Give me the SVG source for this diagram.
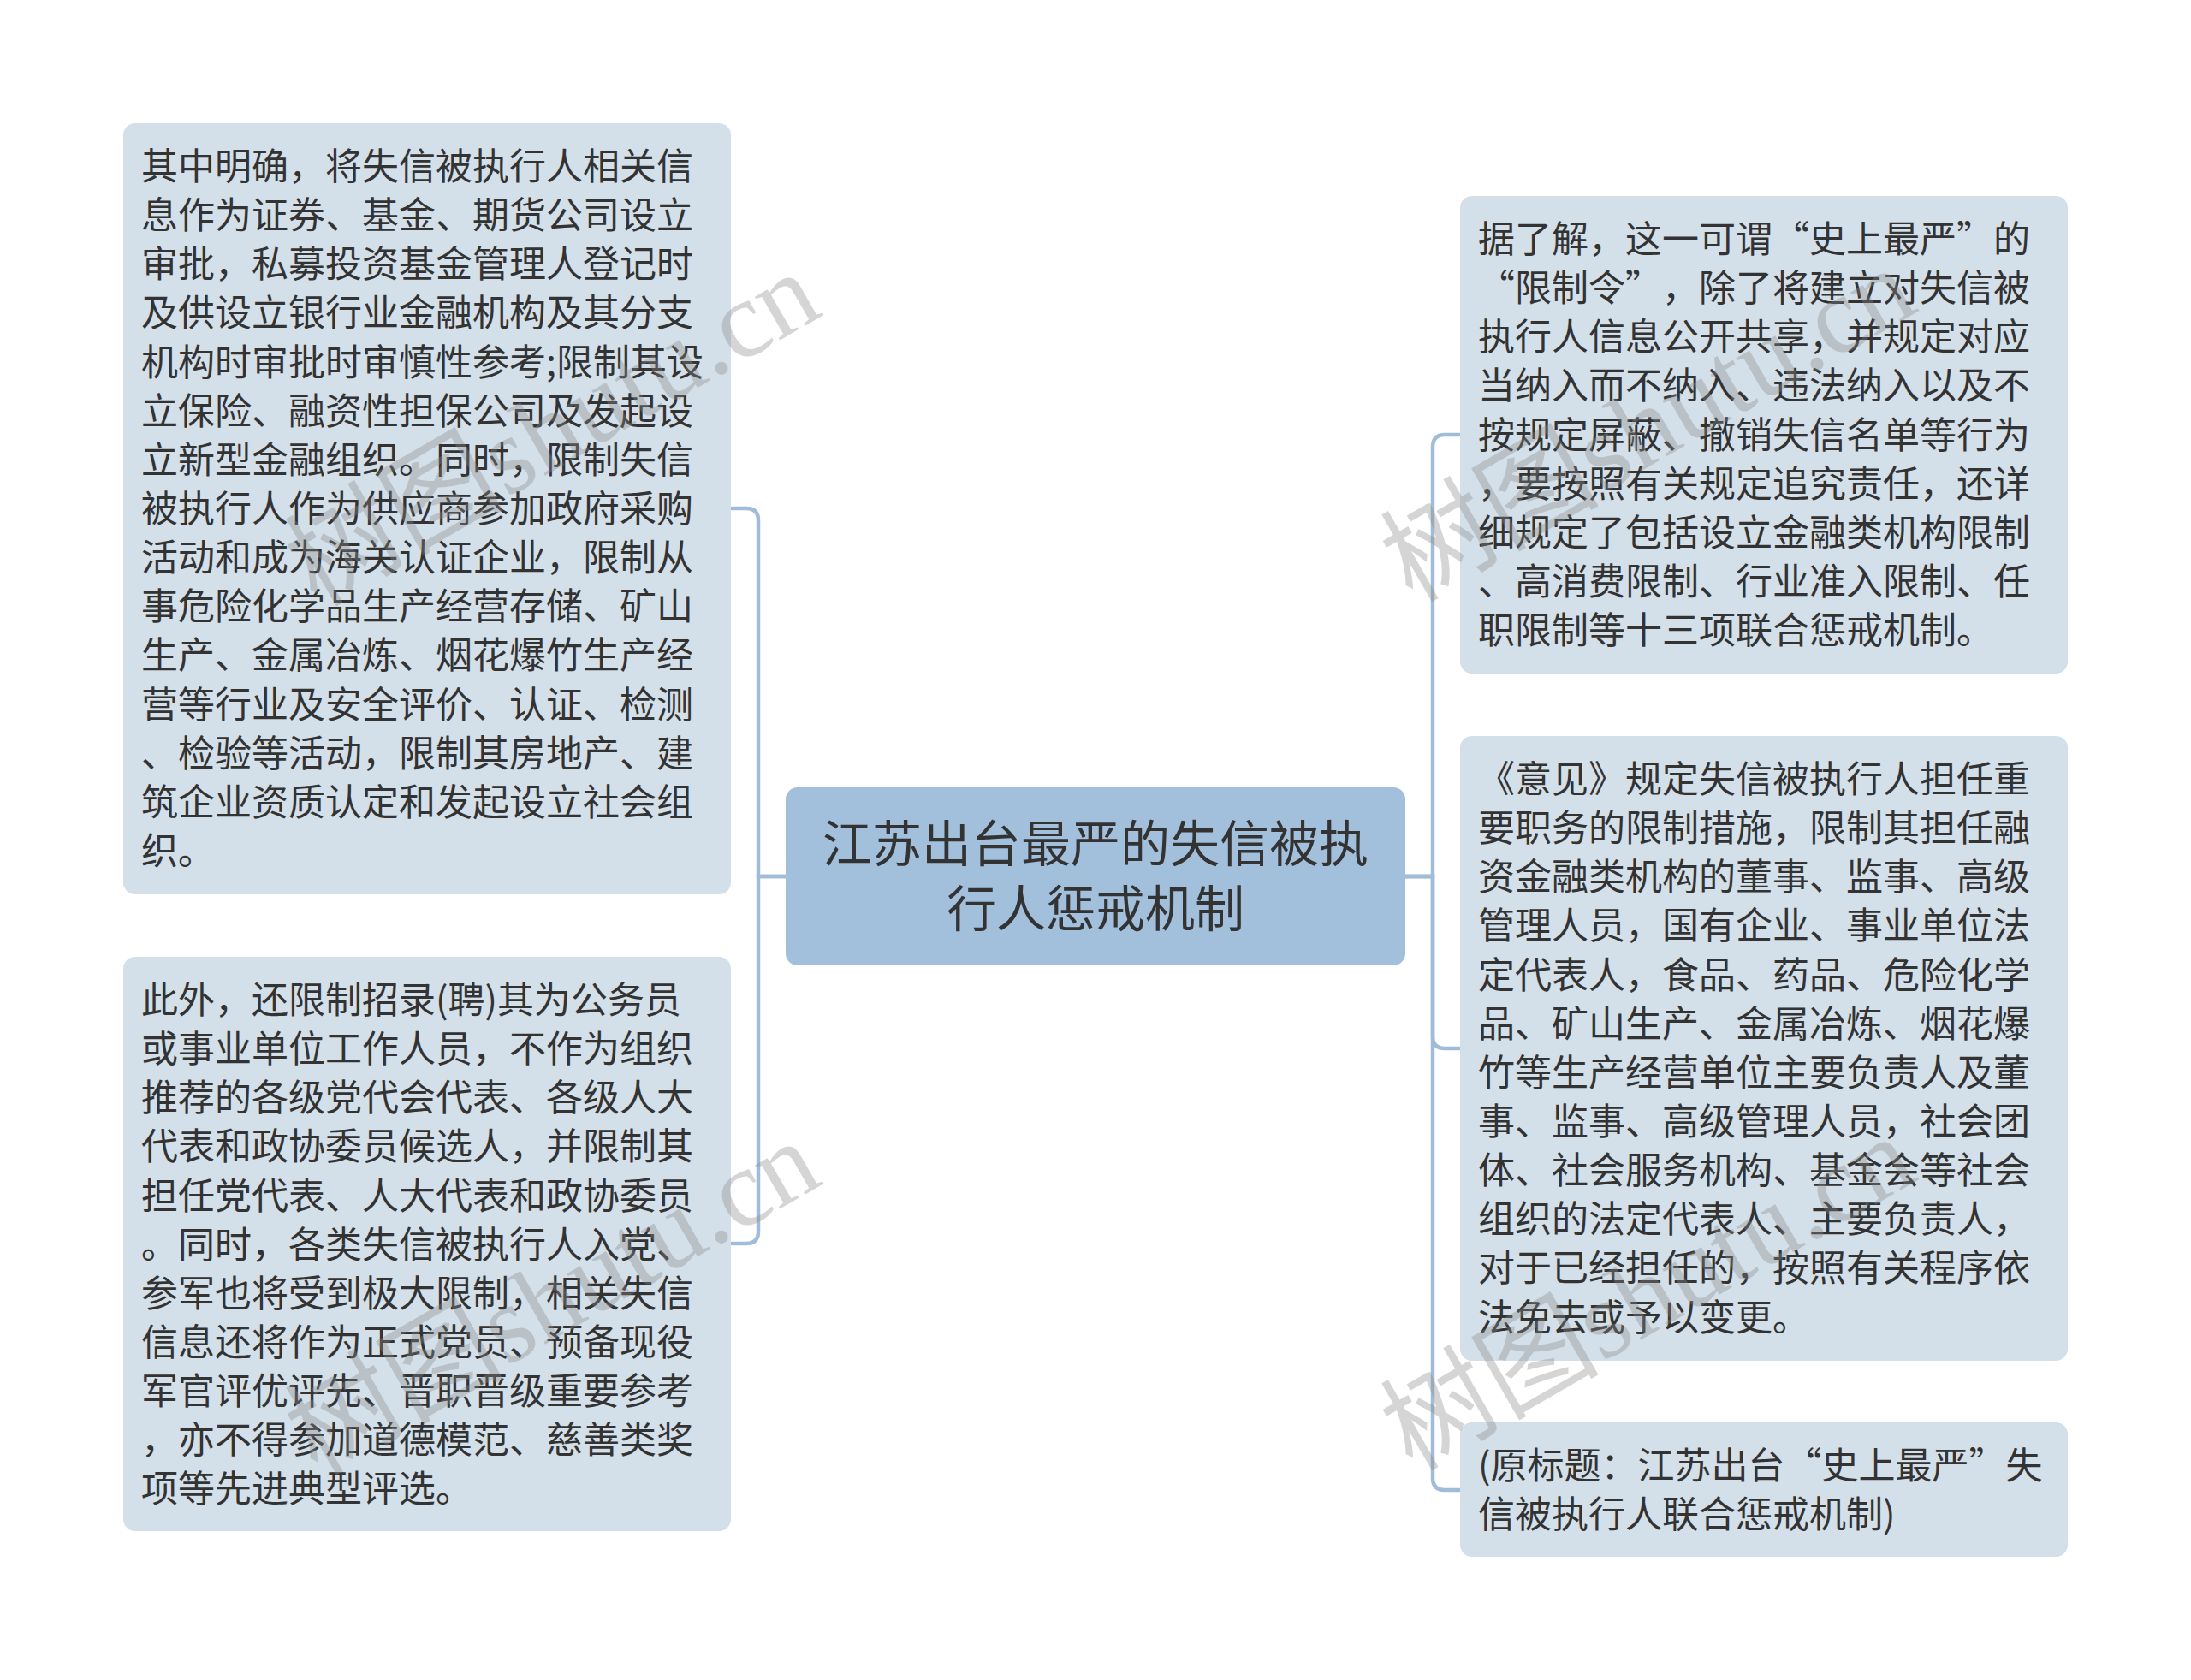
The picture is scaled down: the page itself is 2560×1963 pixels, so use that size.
<svg xmlns="http://www.w3.org/2000/svg" width="2560" height="1963" viewBox="0 0 2560 1963">
<style>
.bg{fill:#ffffff}
.node{fill:#d3dfe9}
.root{fill:#a2bfdc}
.t{font-family:"Noto Sans CJK SC","Noto Sans CJK TC",sans-serif;font-size:43px;fill:#333333;text-spacing-trim:space-all}
.rt{font-family:"Noto Sans CJK SC","Noto Sans CJK TC",sans-serif;font-size:58px;fill:#333333;text-anchor:middle}
.conn{fill:none;stroke:#a0bcd8;stroke-width:4.5;stroke-linecap:round}
.wm{font-family:"Liberation Serif","Noto Sans CJK SC",serif;font-size:128px;fill:#8a8a8a;opacity:0.35}
</style>
<rect class="bg" x="0" y="0" width="2560" height="1963"/>
<g id="connectors">
<path class="conn" d="M918 1024 H886 V608 Q886 594 872 594 H855"/>
<path class="conn" d="M918 1024 H886 V1439 Q886 1453 872 1453 H855"/>
<path class="conn" d="M1642 1024 H1674 V522 Q1674 508 1688 508 H1705"/>
<path class="conn" d="M1642 1024 H1674 V1211 Q1674 1225 1688 1225 H1705"/>
<path class="conn" d="M1642 1024 H1674 V1727 Q1674 1741 1688 1741 H1705"/>
</g>
<g id="root">
<rect class="root" x="918" y="920" width="724" height="208" rx="14"/>
<text class="rt"><tspan x="1280" y="1007">江苏出台最严的失信被执</tspan><tspan x="1280" y="1083">行人惩戒机制</tspan></text>
</g>
<g id="node-left-1">
<rect class="node" x="144" y="144" width="710" height="901" rx="14"/>
<text class="t">
<tspan x="165" y="210">其中明确，将失信被执行人相关信</tspan>
<tspan x="165" y="267.1">息作为证券、基金、期货公司设立</tspan>
<tspan x="165" y="324.3">审批，私募投资基金管理人登记时</tspan>
<tspan x="165" y="381.4">及供设立银行业金融机构及其分支</tspan>
<tspan x="165" y="438.6">机构时审批时审慎性参考;限制其设</tspan>
<tspan x="165" y="495.7">立保险、融资性担保公司及发起设</tspan>
<tspan x="165" y="552.9">立新型金融组织。同时，限制失信</tspan>
<tspan x="165" y="610">被执行人作为供应商参加政府采购</tspan>
<tspan x="165" y="667.1">活动和成为海关认证企业，限制从</tspan>
<tspan x="165" y="724.3">事危险化学品生产经营存储、矿山</tspan>
<tspan x="165" y="781.4">生产、金属冶炼、烟花爆竹生产经</tspan>
<tspan x="165" y="838.6">营等行业及安全评价、认证、检测</tspan>
<tspan x="165" y="895.7">、检验等活动，限制其房地产、建</tspan>
<tspan x="165" y="952.9">筑企业资质认定和发起设立社会组</tspan>
<tspan x="165" y="1010">织。</tspan>
</text>
</g>
<g id="node-left-2">
<rect class="node" x="144" y="1118" width="710" height="671" rx="14"/>
<text class="t">
<tspan x="165" y="1184">此外，还限制招录(聘)其为公务员</tspan>
<tspan x="165" y="1241.1">或事业单位工作人员，不作为组织</tspan>
<tspan x="165" y="1298.3">推荐的各级党代会代表、各级人大</tspan>
<tspan x="165" y="1355.4">代表和政协委员候选人，并限制其</tspan>
<tspan x="165" y="1412.6">担任党代表、人大代表和政协委员</tspan>
<tspan x="165" y="1469.7">。同时，各类失信被执行人入党、</tspan>
<tspan x="165" y="1526.9">参军也将受到极大限制，相关失信</tspan>
<tspan x="165" y="1584">信息还将作为正式党员、预备现役</tspan>
<tspan x="165" y="1641.1">军官评优评先、晋职晋级重要参考</tspan>
<tspan x="165" y="1698.3">，亦不得参加道德模范、慈善类奖</tspan>
<tspan x="165" y="1755.4">项等先进典型评选。</tspan>
</text>
</g>
<g id="node-right-1">
<rect class="node" x="1706" y="229" width="710" height="558" rx="14"/>
<text class="t">
<tspan x="1727" y="295">据了解，这一可谓“史上最严”的</tspan>
<tspan x="1727" y="352.1">“限制令”，除了将建立对失信被</tspan>
<tspan x="1727" y="409.3">执行人信息公开共享，并规定对应</tspan>
<tspan x="1727" y="466.4">当纳入而不纳入、违法纳入以及不</tspan>
<tspan x="1727" y="523.6">按规定屏蔽、撤销失信名单等行为</tspan>
<tspan x="1727" y="580.7">，要按照有关规定追究责任，还详</tspan>
<tspan x="1727" y="637.9">细规定了包括设立金融类机构限制</tspan>
<tspan x="1727" y="695">、高消费限制、行业准入限制、任</tspan>
<tspan x="1727" y="752.1">职限制等十三项联合惩戒机制。</tspan>
</text>
</g>
<g id="node-right-2">
<rect class="node" x="1706" y="860" width="710" height="730" rx="14"/>
<text class="t">
<tspan x="1727" y="926">《意见》规定失信被执行人担任重</tspan>
<tspan x="1727" y="983.1">要职务的限制措施，限制其担任融</tspan>
<tspan x="1727" y="1040.3">资金融类机构的董事、监事、高级</tspan>
<tspan x="1727" y="1097.4">管理人员，国有企业、事业单位法</tspan>
<tspan x="1727" y="1154.6">定代表人，食品、药品、危险化学</tspan>
<tspan x="1727" y="1211.7">品、矿山生产、金属冶炼、烟花爆</tspan>
<tspan x="1727" y="1268.9">竹等生产经营单位主要负责人及董</tspan>
<tspan x="1727" y="1326">事、监事、高级管理人员，社会团</tspan>
<tspan x="1727" y="1383.1">体、社会服务机构、基金会等社会</tspan>
<tspan x="1727" y="1440.3">组织的法定代表人、主要负责人，</tspan>
<tspan x="1727" y="1497.4">对于已经担任的，按照有关程序依</tspan>
<tspan x="1727" y="1554.6">法免去或予以变更。</tspan>
</text>
</g>
<g id="node-right-3">
<rect class="node" x="1706" y="1662" width="710" height="157" rx="14"/>
<text class="t">
<tspan x="1727" y="1728">(原标题：江苏出台“史上最严”失</tspan>
<tspan x="1727" y="1785.1">信被执行人联合惩戒机制)</tspan>
</text>
</g>
<g id="watermarks">
<text class="wm" transform="translate(370 710) rotate(-30)">树图shutu.cn</text>
<text class="wm" transform="translate(370 1725) rotate(-30)">树图shutu.cn</text>
<text class="wm" transform="translate(1650 705) rotate(-30)">树图shutu.cn</text>
<text class="wm" transform="translate(1650 1720) rotate(-30)">树图shutu.cn</text>
</g>
</svg>
